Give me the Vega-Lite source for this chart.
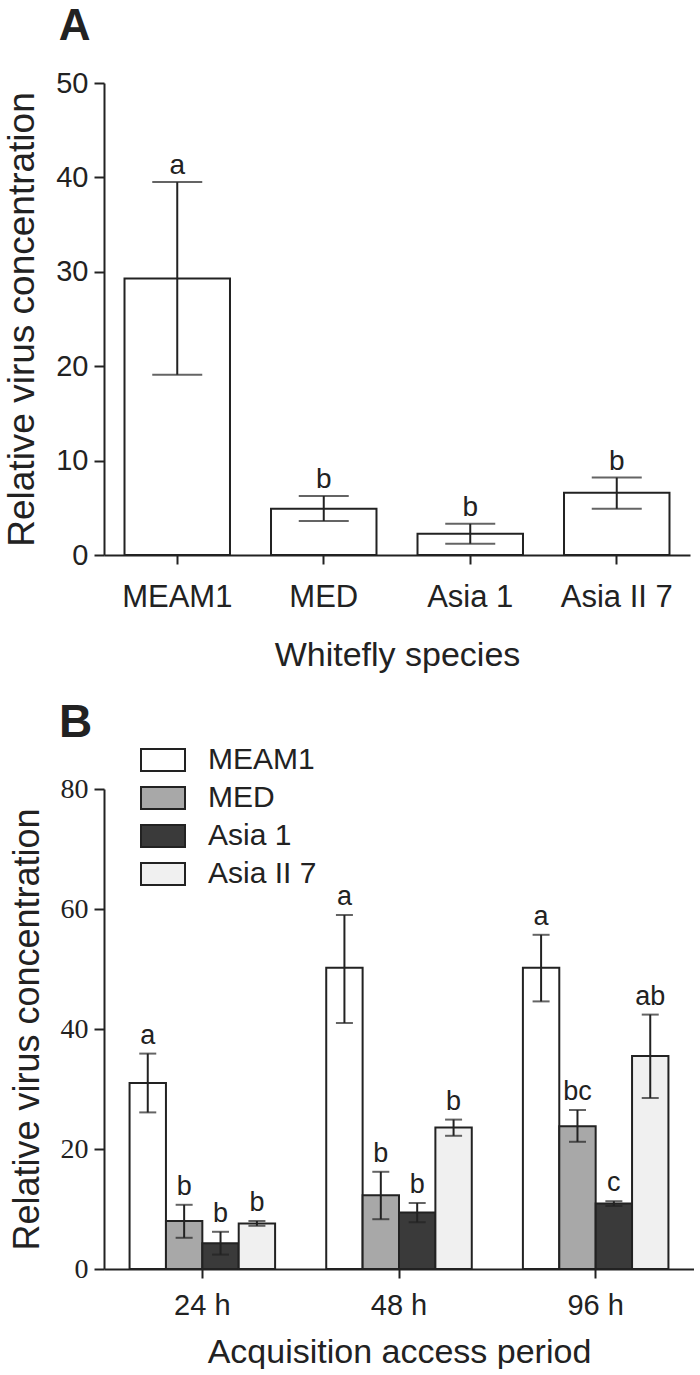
{
  "$schema": "https://vega.github.io/schema/vega-lite/v6.json",
  "padding": {"left": 3, "top": 5, "right": 0, "bottom": 0},
  "background": "white",
  "spacing": 28,
  "align": "none",
  "resolve": {"legend": {"fill": "independent"}, "scale": {"fill": "independent"}},
  "config": {
    "view": {"stroke": null},
    "font": "Liberation Sans",
    "axis": {
      "domainColor": "#222",
      "domainWidth": 2,
      "tickColor": "#222",
      "tickWidth": 2,
      "labelColor": "#222",
      "titleColor": "#222",
      "grid": false,
      "titleFontWeight": "normal"
    }
  },
  "datasets": {
    "panelA": [
      {"species": "MEAM1", "mean": 29.3, "lo": 19.1, "hi": 39.5, "letter": "a"},
      {"species": "MED", "mean": 4.9, "lo": 3.6, "hi": 6.25, "letter": "b"},
      {"species": "Asia 1", "mean": 2.25, "lo": 1.2, "hi": 3.3, "letter": "b"},
      {"species": "Asia II 7", "mean": 6.6, "lo": 4.9, "hi": 8.2, "letter": "b"}
    ],
    "panelB": [
      {"period": "24 h", "species": "MEAM1", "mean": 31.0, "lo": 26.1, "hi": 35.9, "letter": "a"},
      {"period": "24 h", "species": "MED", "mean": 8.0, "lo": 5.2, "hi": 10.7, "letter": "b"},
      {"period": "24 h", "species": "Asia 1", "mean": 4.3, "lo": 2.4, "hi": 6.2, "letter": "b"},
      {"period": "24 h", "species": "Asia II 7", "mean": 7.6, "lo": 7.2, "hi": 8.0, "letter": "b"},
      {"period": "48 h", "species": "MEAM1", "mean": 50.2, "lo": 41.0, "hi": 59.0, "letter": "a"},
      {"period": "48 h", "species": "MED", "mean": 12.3, "lo": 8.3, "hi": 16.2, "letter": "b"},
      {"period": "48 h", "species": "Asia 1", "mean": 9.4, "lo": 7.8, "hi": 11.0, "letter": "b"},
      {"period": "48 h", "species": "Asia II 7", "mean": 23.6, "lo": 22.2, "hi": 24.9, "letter": "b"},
      {"period": "96 h", "species": "MEAM1", "mean": 50.2, "lo": 44.6, "hi": 55.7, "letter": "a"},
      {"period": "96 h", "species": "MED", "mean": 23.8, "lo": 21.2, "hi": 26.5, "letter": "bc"},
      {"period": "96 h", "species": "Asia 1", "mean": 10.9, "lo": 10.5, "hi": 11.3, "letter": "c"},
      {"period": "96 h", "species": "Asia II 7", "mean": 35.5, "lo": 28.5, "hi": 42.4, "letter": "ab"}
    ]
  },
  "vconcat": [
    {
      "width": 586,
      "height": 472,
      "title": {"text": "A", "anchor": "start", "frame": "bounds", "fontSize": 44, "fontWeight": "bold", "font": "Liberation Sans", "color": "#222", "dx": 55, "offset": 20},
      "data": {"name": "panelA"},
      "encoding": {
        "x": {
          "field": "species", "type": "nominal", "sort": null,
          "scale": {"paddingInner": 0.28, "paddingOuter": 0.14},
          "axis": {"title": "Whitefly species", "labelAngle": 0, "labelFontSize": 31, "titleFontSize": 34, "tickSize": 9, "labelPadding": 18, "titlePadding": 26}
        }
      },
      "layer": [
        {
          "mark": {"type": "bar", "fill": "white", "stroke": "#222", "strokeWidth": 2},
          "encoding": {
            "y": {
              "field": "mean", "type": "quantitative",
              "scale": {"domain": [0, 50], "nice": false},
              "axis": {"title": "Relative virus concentration", "values": [0, 10, 20, 30, 40, 50], "labelFontSize": 29, "titleFontSize": 37, "tickSize": 10, "labelPadding": 6, "titlePadding": 14}
            }
          }
        },
        {
          "mark": {"type": "rule", "stroke": "#222", "strokeWidth": 2},
          "encoding": {"y": {"field": "lo", "type": "quantitative"}, "y2": {"field": "hi"}}
        },
        {
          "mark": {"type": "tick", "orient": "horizontal", "size": 50, "thickness": 2, "color": "#222"},
          "encoding": {"y": {"field": "lo", "type": "quantitative"}}
        },
        {
          "mark": {"type": "tick", "orient": "horizontal", "size": 50, "thickness": 2, "color": "#222"},
          "encoding": {"y": {"field": "hi", "type": "quantitative"}}
        },
        {
          "mark": {"type": "text", "fontSize": 28, "baseline": "alphabetic", "dy": -8, "color": "#222"},
          "encoding": {"y": {"field": "hi", "type": "quantitative"}, "text": {"field": "letter"}}
        }
      ]
    },
    {
      "width": 590,
      "height": 480,
      "title": {"text": "B", "anchor": "start", "frame": "bounds", "fontSize": 46, "fontWeight": "bold", "font": "Liberation Sans", "color": "#222", "dx": 50, "offset": -10},
      "data": {"name": "panelB"},
      "encoding": {
        "x": {
          "field": "period", "type": "nominal", "sort": null,
          "scale": {"paddingInner": 0.26, "paddingOuter": 0.13},
          "axis": {"title": "Acquisition access period", "labelAngle": 0, "labelFontSize": 29, "titleFontSize": 34, "tickSize": 9, "labelPadding": 13, "titlePadding": 15}
        },
        "xOffset": {"field": "species", "type": "nominal", "sort": ["MEAM1", "MED", "Asia 1", "Asia II 7"], "scale": {"paddingInner": 0, "paddingOuter": 0}}
      },
      "layer": [
        {
          "mark": {"type": "bar", "stroke": "#222", "strokeWidth": 2},
          "encoding": {
            "y": {
              "field": "mean", "type": "quantitative",
              "scale": {"domain": [0, 80], "nice": false},
              "axis": {"title": "Relative virus concentration", "values": [0, 20, 40, 60, 80], "labelFont": "Liberation Serif", "labelFontSize": 28, "titleFontSize": 36, "tickSize": 10, "labelPadding": 6, "titlePadding": 14}
            },
            "fill": {
              "field": "species", "type": "nominal",
              "scale": {"domain": ["MEAM1", "MED", "Asia 1", "Asia II 7"], "range": ["#ffffff", "#a8a8a8", "#3a3a3a", "#f0f0f0"]},
              "legend": {"orient": "none", "legendX": 36, "legendY": -52, "title": null, "symbolType": "M-1,-0.5H1V0.5H-1Z", "symbolSize": 1936, "symbolStrokeColor": "#222", "symbolStrokeWidth": 2, "labelFontSize": 30, "labelFont": "Liberation Sans", "labelColor": "#222", "labelOffset": 22, "rowPadding": -1}
            }
          }
        },
        {
          "mark": {"type": "rule", "stroke": "#222", "strokeWidth": 2},
          "encoding": {"y": {"field": "lo", "type": "quantitative"}, "y2": {"field": "hi"}}
        },
        {
          "mark": {"type": "tick", "orient": "horizontal", "size": 17, "thickness": 2, "color": "#222"},
          "encoding": {"y": {"field": "lo", "type": "quantitative"}}
        },
        {
          "mark": {"type": "tick", "orient": "horizontal", "size": 17, "thickness": 2, "color": "#222"},
          "encoding": {"y": {"field": "hi", "type": "quantitative"}}
        },
        {
          "mark": {"type": "text", "fontSize": 27, "baseline": "alphabetic", "dy": -10, "color": "#222"},
          "encoding": {"y": {"field": "hi", "type": "quantitative"}, "text": {"field": "letter"}}
        }
      ]
    }
  ]
}
